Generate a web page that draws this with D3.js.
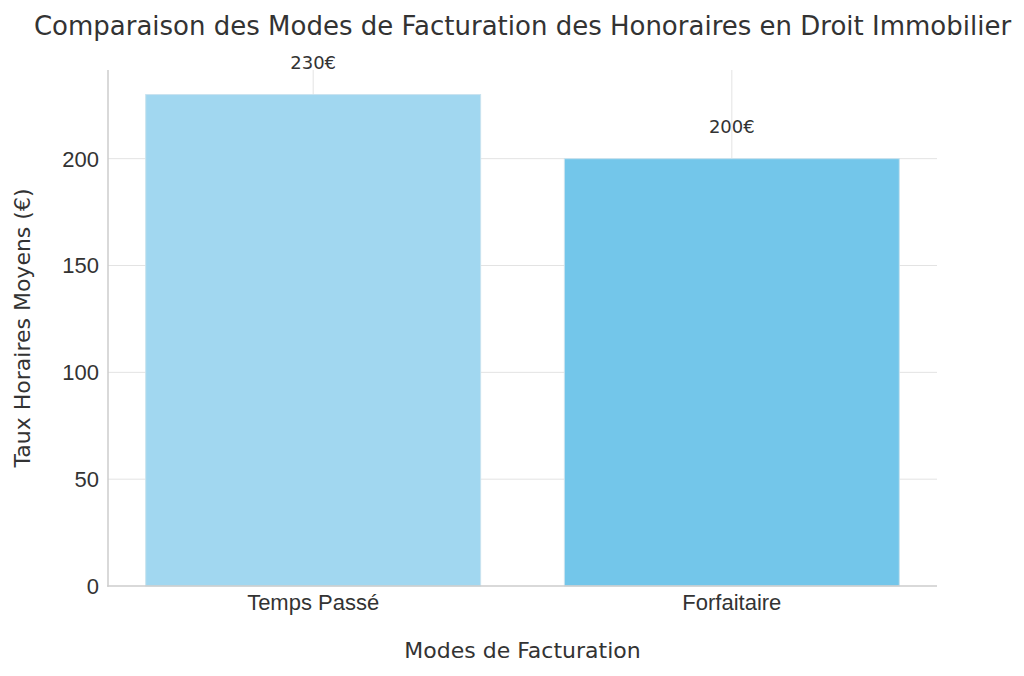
<!DOCTYPE html>
<html><head><meta charset="utf-8">
<script src="https://cdn.jsdelivr.net/npm/d3@7"></script>
<style>body{margin:0;background:#fff}</style>
</head><body>
<svg id="c" width="1024" height="676"></svg>
<script>
const categories = ["Temps Passé", "Forfaitaire"];
const values = [230, 200];
const colors = ["#a1d7f0", "#73c6ea"];
const yTicks = [0, 50, 100, 150, 200];
const title = "Comparaison des Modes de Facturation des Honoraires en Droit Immobilier";
const xLabel = "Modes de Facturation";
const yLabel = "Taux Horaires Moyens (€)";

const svg = d3.select("#c");
const m = {l:108, r:937, t:70, b:586};
const x = d3.scaleLinear().domain([-0.49, 1.49]).range([m.l, m.r]);
const y = d3.scaleLinear().domain([0, 241.5]).range([m.b, m.t]);
const bw = x(0.4) - x(0);

// grid
svg.append("g").selectAll("line").data(yTicks.slice(1)).join("line")
  .attr("x1", m.l).attr("x2", m.r).attr("y1", d=>y(d)).attr("y2", d=>y(d))
  .attr("stroke", "#e3e3e3").attr("stroke-width", 1);
svg.append("g").selectAll("line").data(categories).join("line")
  .attr("x1", (d,i)=>x(i)).attr("x2", (d,i)=>x(i)).attr("y1", m.t).attr("y2", m.b)
  .attr("stroke", "#e3e3e3").attr("stroke-width", 1);

// bars
svg.append("g").selectAll("rect").data(values).join("rect")
  .attr("x", (d,i)=>x(i)-bw).attr("width", 2*bw)
  .attr("y", d=>y(d)).attr("height", d=>y(0)-y(d))
  .attr("fill", (d,i)=>colors[i]).attr("stroke", "#c9e3ef").attr("stroke-width", 1);

// spines
svg.append("line").attr("x1", m.l).attr("x2", m.l).attr("y1", m.t).attr("y2", m.b+0.75)
  .attr("stroke", "#cccccc").attr("stroke-width", 1.5);
svg.append("line").attr("x1", m.l-0.75).attr("x2", m.r).attr("y1", m.b).attr("y2", m.b)
  .attr("stroke", "#cccccc").attr("stroke-width", 1.5);

// y tick labels
svg.append("g").selectAll("text").data(yTicks).join("text")
  .attr("x", m.l-9).attr("y", d=>y(d)).attr("dy", "0.36em")
  .attr("text-anchor", "end").attr("font-family", "Liberation Sans, Arial, sans-serif")
  .attr("font-size", 22).attr("fill", "#333").text(d=>d);

// x tick labels
svg.append("g").selectAll("text").data(categories).join("text")
  .attr("x", (d,i)=>x(i)).attr("y", m.b+24)
  .attr("text-anchor", "middle").attr("font-family", "Liberation Sans, Arial, sans-serif")
  .attr("font-size", 22).attr("fill", "#333").text(d=>d);

// value labels
svg.append("g").selectAll("text").data(values).join("text")
  .attr("x", (d,i)=>x(i)).attr("y", d=>y(d+15)).attr("dy", "0.36em")
  .attr("text-anchor", "middle").attr("font-family", "DejaVu Sans, sans-serif")
  .attr("font-size", 18).attr("fill", "#333").text(d=>d+"€");

// title
svg.append("text").attr("x", (m.l+m.r)/2).attr("y", 35)
  .attr("text-anchor", "middle").attr("font-family", "DejaVu Sans, sans-serif")
  .attr("font-size", 26).attr("fill", "#333").text(title);

// axis labels
svg.append("text").attr("x", (m.l+m.r)/2).attr("y", 658)
  .attr("text-anchor", "middle").attr("font-family", "DejaVu Sans, sans-serif")
  .attr("font-size", 22).attr("fill", "#333").text(xLabel);
svg.append("text").attr("transform", `translate(30,${(m.t+m.b)/2}) rotate(-90)`)
  .attr("text-anchor", "middle").attr("font-family", "DejaVu Sans, sans-serif")
  .attr("font-size", 22).attr("fill", "#333").text(yLabel);
</script>
</body></html>
